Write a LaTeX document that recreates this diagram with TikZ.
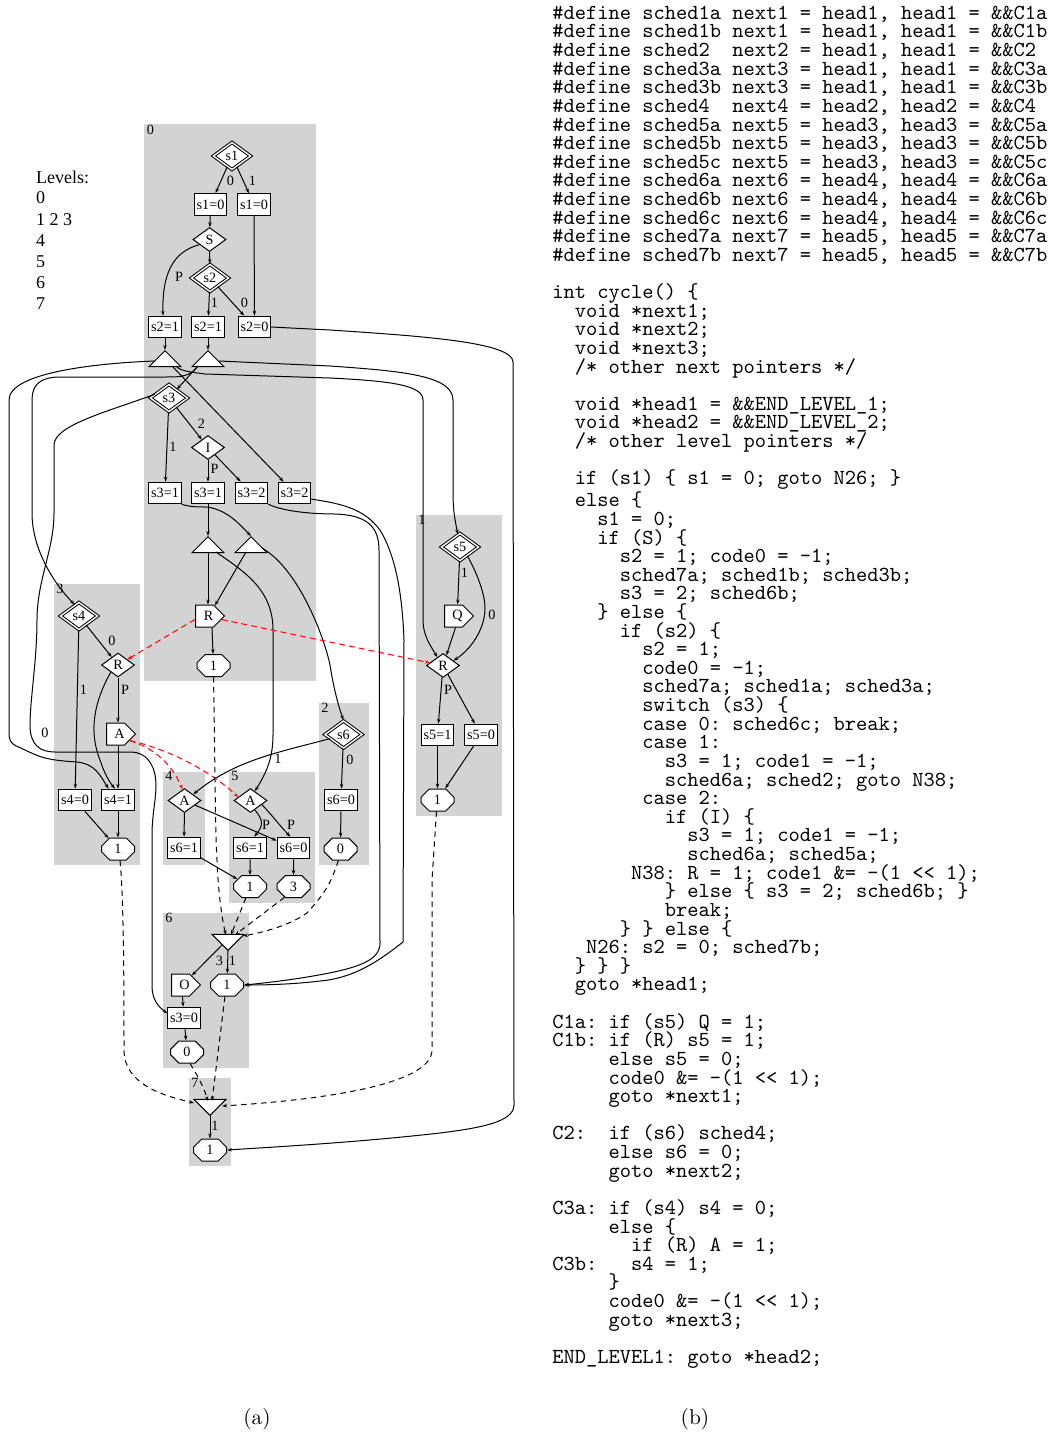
\documentclass[tikz,border=0pt]{standalone}
\usepackage{fontspec}
\usetikzlibrary{arrows.meta,shapes.geometric,shapes.misc,shapes.symbols}
\newfontfamily\labfont{Liberation Serif}
\definecolor{lvlgray}{HTML}{D3D3D3}
\newcommand{\codefont}{\fontsize{10pt}{8.69pt}\selectfont\ttfamily}
\newcommand{\sigtext}[1]{\makebox[0pt]{\hspace{8pt}#1}}
\tikzset{
  base/.style={draw=black,fill=white,line width=1pt,inner sep=0pt,font=\labfont\fontsize{14.2pt}{15pt}\selectfont},
  boxn/.style={base,rectangle,minimum width=32.5pt,minimum height=21.5pt},
  dia/.style={base,diamond,minimum width=33pt,minimum height=24pt},
  ddia/.style={base,diamond,double,double distance=1.4pt,minimum width=37.5pt,minimum height=27.5pt},
  octn/.style={base,chamfered rectangle,chamfered rectangle xsep=5.5pt,chamfered rectangle ysep=5.5pt,minimum width=33pt,minimum height=22pt},
  trin/.style={base,isosceles triangle,isosceles triangle apex angle=90,isosceles triangle stretches,shape border rotate=90,minimum width=32pt,minimum height=16pt,anchor=apex},
  itrin/.style={trin,shape border rotate=270},
  sig/.style={base,signal,signal to=east,signal pointer angle=90,minimum width=29pt,minimum height=22pt,anchor=west},
  lab/.style={inner sep=0pt,font=\labfont\fontsize{14.2pt}{15pt}\selectfont},
  lev/.style={inner sep=0pt,anchor=west,font=\labfont\fontsize{18pt}{21pt}\selectfont},
  conn/.style={draw=black,line width=1pt,-{Stealth[length=5pt,width=3.4pt]}},
  dconn/.style={conn,dash pattern=on 5.5pt off 4.5pt},
  rconn/.style={conn,draw=red,dash pattern=on 6pt off 4pt,-{Stealth[length=5pt,width=3.4pt,fill=red]}},
  capn/.style={inner sep=0pt,scale=2.14,transform shape,font=\fontsize{10pt}{12pt}\selectfont}
}
\begin{document}
\begin{tikzpicture}[x=1pt,y=-1pt]
\useasboundingbox (0,0) rectangle (1052,1435);
% level regions
\fill[lvlgray] (144,124) rectangle (316,681);
\fill[lvlgray] (416,515) rectangle (502,816);
\fill[lvlgray] (319,703) rectangle (369,865);
\fill[lvlgray] (54,584) rectangle (140,865);
\fill[lvlgray] (163,772) rectangle (205,865);
\fill[lvlgray] (229,772) rectangle (315,903);
\fill[lvlgray] (163,913) rectangle (249,1068);
\fill[lvlgray] (189,1078) rectangle (231,1166);
\node[lab] (g0) at (150.5,130) {0};
\node[lab] (g1) at (422,520) {1};
\node[lab] (g2) at (325,708) {2};
\node[lab] (g3) at (60,589) {3};
\node[lab] (g4) at (169,776) {4};
\node[lab] (g5) at (235,776) {5};
\node[lab] (g6) at (169,918) {6};
\node[lab] (g7) at (195,1083) {7};
% legend
\node[lev] (lv) at (36,177) {Levels:};
\node[lev] (lv0) at (36,198) {0};
\node[lev] (lv1) at (36,219.5) {1 2 3};
\node[lev] (lv4) at (36,240.5) {4};
\node[lev] (lv5) at (36,261.5) {5};
\node[lev] (lv6) at (36,282.5) {6};
\node[lev] (lv7) at (36,303.5) {7};
% level 0
\node[ddia] (s1) at (232,156) {s1};
\node[boxn] (b10a) at (210.5,204.5) {s1=0};
\node[boxn] (b10b) at (254,204.5) {s1=0};
\node[dia] (S) at (209.5,239.5) {S};
\node[ddia] (s2) at (210,278) {s2};
\node[boxn] (b21a) at (165,327) {s2=1};
\node[boxn] (b21b) at (208,327) {s2=1};
\node[boxn] (b20) at (254.5,327) {s2=0};
\node[trin] (t1) at (165,350) {};
\node[trin] (t2) at (208,350) {};
\node[ddia] (s3) at (169,398) {s3};
\node[dia] (I) at (208,447.5) {I};
\node[boxn] (b31a) at (165,493) {s3=1};
\node[boxn] (b31b) at (208,493) {s3=1};
\node[boxn] (b32a) at (251.5,493) {s3=2};
\node[boxn] (b32b) at (294.5,493) {s3=2};
\node[trin] (t3) at (208,536) {};
\node[trin] (t4) at (251,536) {};
\node[sig] (Rp) at (195,616) {\sigtext{R}};
\node[octn] (o0) at (213.5,665.5) {1};
% level 3
\node[ddia] (s4) at (79,616) {s4};
\node[dia] (R3) at (118,665) {R};
\node[sig] (Ap) at (106,734) {\sigtext{A}};
\node[boxn] (b40) at (75,800) {s4=0};
\node[boxn] (b41) at (118,800) {s4=1};
\node[octn] (o3) at (118,849) {1};
% level 4, 5
\node[dia] (A4) at (184.5,800.5) {A};
\node[boxn] (b61a) at (184,848) {s6=1};
\node[dia] (A5) at (250.5,800.5) {A};
\node[boxn] (b61b) at (250,848) {s6=1};
\node[boxn] (b60b) at (293.5,848) {s6=0};
\node[octn] (o5a) at (250,886.5) {1};
\node[octn] (o5b) at (293.5,886.5) {3};
% level 2
\node[ddia] (s6) at (343.5,734.5) {s6};
\node[boxn] (b60) at (341,800) {s6=0};
\node[octn] (o2) at (340.5,849) {0};
% level 6
\node[itrin] (it6) at (228,951) {};
\node[sig] (Op) at (171,985) {\sigtext{O}};
\node[octn] (o6a) at (227,985) {1};
\node[boxn] (b30) at (184,1018) {s3=0};
\node[octn] (o6b) at (187,1052) {0};
% level 7
\node[itrin] (it7) at (210,1116) {};
\node[octn] (o7) at (210,1150) {1};
% level 1
\node[ddia] (s5) at (460,547) {s5};
\node[sig] (Qp) at (444,616) {\sigtext{Q}};
\node[dia] (R1) at (443,665.5) {R};
\node[boxn] (b51) at (437.5,735) {s5=1};
\node[boxn] (b50) at (481,735) {s5=0};
\node[octn] (o1) at (437.5,800) {1};
% attachment points on the triangles
\coordinate (t1w) at (155,361);
\coordinate (t1e) at (172,366);
\coordinate (t1f) at (176,366);
\coordinate (t2w) at (198,366);
\coordinate (t2e) at (219,361);
\coordinate (t3s) at (208,552);
\coordinate (t3e) at (216,552);
\coordinate (t4w) at (246,552);
\coordinate (t4e) at (262,548);
\coordinate (i6a) at (226,935);
\coordinate (i6b) at (231,935);
\coordinate (i6c) at (235,935);
\coordinate (i6d) at (243,936);
\coordinate (i6w) at (222,945);
\coordinate (i7a) at (208,1101);
\coordinate (i7b) at (212,1101);
\coordinate (i7w) at (194,1103);
\coordinate (i7e) at (222,1106);
% level 0 edges
\draw[conn] (s1) -- (b10a);
\draw[conn] (s1) -- (b10b);
\draw[conn] (b10a) -- (S);
\draw[conn] (b10b) -- (b20);
\draw[conn] (S.207) .. controls (172,252) and (162,275) .. (b21a.100);
\draw[conn] (S) -- (s2);
\draw[conn] (s2) -- (b21b);
\draw[conn] (s2) -- (b20);
\draw[conn] (b21a) -- (t1.apex);
\draw[conn] (b21b) -- (t2.apex);
\draw[conn] (t2w) -- (s3);
\draw[conn] (t1e) -- (b32b);
\draw[conn] (s3) -- (I);
\draw[conn] (s3) -- (b31a);
\draw[conn] (I) -- (b31b);
\draw[conn] (I) -- (b32a);
\draw[conn] (b31b) -- (t3.apex);
\draw[conn] (b31a.south east) .. controls (190,507) and (198,507) .. (207,507) .. controls (228,510) and (240,525) .. (t4.apex);
\draw[conn] (t3s) -- (Rp.north -| t3s);
\draw[conn] (t4w) -- (Rp.45);
\draw[conn] (Rp.-57) -- (o0);
% long edges
\draw[conn] (t1w) .. controls (100,363) and (9,372) .. (9,400) -- (9,733) .. controls (9,745) and (15,745) .. (25,750) .. controls (40,757) and (45,760) .. (77,762) .. controls (95,764) and (100,775) .. (b41.130);
\draw[conn] (t2w) .. controls (190,377) and (180,377) .. (165,377) -- (60,377) .. controls (40,377) and (32,385) .. (32,400) -- (32,513) .. controls (32,550) and (55,585) .. (s4.110);
\draw[conn] (s3.165) .. controls (110,411) and (54,425) .. (54,445) -- (54,513) .. controls (54,550) and (37,580) .. (37,620) .. controls (37,660) and (30,700) .. (30,725) .. controls (30,745) and (40,752) .. (55,752) -- (130,752) .. controls (150,752) and (156,770) .. (156,785) .. controls (156,800) and (152,815) .. (152,835) -- (152,985) .. controls (152,1000) and (158,1006) .. (b30.165);
\draw[conn] (t1f) .. controls (180,371) and (190,372) .. (205,374) -- (330,378) .. controls (390,381) and (423,385) .. (423,400) -- (423,620) .. controls (423,635) and (430,645) .. (R1.124);
\draw[conn] (t2e) -- (330,366) .. controls (400,371) and (453,375) .. (453,400) -- (453,493) .. controls (453,510) and (455,520) .. (s5.100);
\draw[conn] (b20.east) -- (330,330) .. controls (420,336) and (513,342) .. (513,362) -- (514,1105) .. controls (514,1122) and (480,1128) .. (440,1133) .. controls (360,1142) and (290,1146) .. (o7.east);
\draw[conn] (b32a.south east) .. controls (285,512) and (315,514) .. (335,514) .. controls (365,515) and (379,525) .. (379,550) -- (380,943) .. controls (380,960) and (360,968) .. (313,976) .. controls (290,980) and (265,983) .. (o6a.east);
\draw[conn] (b32b.-20) .. controls (345,504) and (365,510) .. (380,530) .. controls (395,555) and (402,590) .. (404,640) -- (403,942) .. controls (380,960) and (355,978) .. (320,981) .. controls (295,984) and (270,985) .. (o6a.east);
\draw[conn] (t3e) .. controls (245,572) and (273,590) .. (273,630) -- (273,735) .. controls (273,760) and (265,775) .. (A5.65);
\draw[conn] (t4e) .. controls (300,570) and (325,640) .. (330,665) .. controls (333,685) and (338,705) .. (s6.north);
% level 3 edges
\draw[conn] (s4) -- (R3);
\draw[conn] (s4) -- (b40);
\draw[conn] (R3) -- (Ap.north -| R3);
\draw[conn] (R3.225) .. controls (95,700) and (88,730) .. (100,760) .. controls (104,772) and (108,780) .. (b41.105);
\draw[conn] (Ap.south -| b41) -- (b41);
\draw[conn] (b40) -- (o3);
\draw[conn] (b41) -- (o3);
\draw[conn] (s6.197) .. controls (280,752) and (235,760) .. (A4.35);
% level 4/5 edges
\draw[conn] (A4) -- (b61a);
\draw[conn] (A4) -- (b60b);
\draw[conn] (b61a) -- (o5a);
\draw[conn] (A5.-65) .. controls (263,820) and (264,825) .. (b61b.70);
\draw[conn] (A5.-20) .. controls (272,815) and (280,826) .. (b60b.105);
\draw[conn] (b61b) -- (o5a);
\draw[conn] (b60b) -- (o5b);
% level 2 edges
\draw[conn] (s6) -- (b60);
\draw[conn] (b60) -- (o2);
% red
\draw[rconn] (Rp.200) -- (R3);
\draw[rconn] (Rp) -- (R1);
\draw[rconn] (Ap.-25) .. controls (150,747) and (170,760) .. (A4.100);
\draw[rconn] (Ap.-25) .. controls (165,748) and (210,770) .. (A5.165);
% dashed into level 6
\draw[dconn] (o0.south) .. controls (215,750) and (215,830) .. (217,860) .. controls (218,890) and (222,920) .. (i6a);
\draw[dconn] (o5a.-110) -- (i6b);
\draw[dconn] (o5b.-130) -- (i6c);
\draw[dconn] (o2.-100) .. controls (330,885) and (325,893) .. (307,913) .. controls (290,925) and (265,932) .. (i6d);
% level 6 edges
\draw[conn] (i6w) -- (Op.40);
\draw[conn] (it6.apex) -- (o6a);
\draw[conn] (Op.-80) -- (b30);
\draw[conn] (b30) -- (o6b);
% dashed into level 7
\draw[dconn] (o3.-80) .. controls (124,900) and (124,1000) .. (124,1050) .. controls (124,1085) and (165,1096) .. (i7w);
\draw[dconn] (o6b.-75) .. controls (197,1075) and (203,1085) .. (i7a);
\draw[dconn] (o6a.-100) -- (i7b);
\draw[dconn] (o1.-95) -- (432,880) -- (432,1050) .. controls (432,1085) and (320,1100) .. (i7e);
\draw[conn] (it7.apex) -- (o7);
% level 1 edges
\draw[conn] (s5) -- (Qp.70);
\draw[conn] (s5.-50) .. controls (478,575) and (485,595) .. (485,608) .. controls (485,630) and (470,650) .. (R1.25);
\draw[conn] (Qp.-80) -- (R1);
\draw[conn] (R1) -- (b51);
\draw[conn] (R1) -- (b50);
\draw[conn] (b51) -- (o1);
\draw[conn] (b50) -- (o1);
% edge labels
\node[lab] (e1) at (230.5,181) {0};
\node[lab] (e2) at (252.5,181) {1};
\node[lab] (e3) at (179,276.5) {P};
\node[lab] (e4) at (214.5,303) {1};
\node[lab] (e5) at (244.5,303) {0};
\node[lab] (e6) at (201.5,423.5) {2};
\node[lab] (e7) at (173,446.5) {1};
\node[lab] (e8) at (214.5,469) {P};
\node[lab] (e9) at (112,640.5) {0};
\node[lab] (e10) at (83.5,690) {1};
\node[lab] (e11) at (125,690) {P};
\node[lab] (e12) at (45,733) {0};
\node[lab] (e13) at (278,759) {1};
\node[lab] (e14) at (350,759.5) {0};
\node[lab] (e15) at (266,825) {P};
\node[lab] (e16) at (291,825) {P};
\node[lab] (e17) at (219.5,961) {3};
\node[lab] (e18) at (232.5,961) {1};
\node[lab] (e19) at (215,1126) {1};
\node[lab] (e20) at (464.5,572.5) {1};
\node[lab] (e21) at (492,614.5) {0};
\node[lab] (e22) at (448,690) {P};
% code
\node[anchor=north west,inner sep=0pt,scale=2.143,transform shape,align=left,font=\codefont] (code) at (552,5.5) {%
\#define~sched1a~next1~=~head1,~head1~=~\&\&C1a\\
\#define~sched1b~next1~=~head1,~head1~=~\&\&C1b\\
\#define~sched2~~next2~=~head1,~head1~=~\&\&C2\\
\#define~sched3a~next3~=~head1,~head1~=~\&\&C3a\\
\#define~sched3b~next3~=~head1,~head1~=~\&\&C3b\\
\#define~sched4~~next4~=~head2,~head2~=~\&\&C4\\
\#define~sched5a~next5~=~head3,~head3~=~\&\&C5a\\
\#define~sched5b~next5~=~head3,~head3~=~\&\&C5b\\
\#define~sched5c~next5~=~head3,~head3~=~\&\&C5c\\
\#define~sched6a~next6~=~head4,~head4~=~\&\&C6a\\
\#define~sched6b~next6~=~head4,~head4~=~\&\&C6b\\
\#define~sched6c~next6~=~head4,~head4~=~\&\&C6c\\
\#define~sched7a~next7~=~head5,~head5~=~\&\&C7a\\
\#define~sched7b~next7~=~head5,~head5~=~\&\&C7b\\
~\\
int~cycle()~\{\\
~~void~*next1;\\
~~void~*next2;\\
~~void~*next3;\\
~~/*~other~next~pointers~*/\\
~\\
~~void~*head1~=~\&\&END\_LEVEL\_1;\\
~~void~*head2~=~\&\&END\_LEVEL\_2;\\
~~/*~other~level~pointers~*/\\
~\\
~~if~(s1)~\{~s1~=~0;~goto~N26;~\}\\
~~else~\{\\
~~~~s1~=~0;\\
~~~~if~(S)~\{\\
~~~~~~s2~=~1;~code0~=~-1;\\
~~~~~~sched7a;~sched1b;~sched3b;\\
~~~~~~s3~=~2;~sched6b;\\
~~~~\}~else~\{\\
~~~~~~if~(s2)~\{\\
~~~~~~~~s2~=~1;\\
~~~~~~~~code0~=~-1;\\
~~~~~~~~sched7a;~sched1a;~sched3a;\\
~~~~~~~~switch~(s3)~\{\\
~~~~~~~~case~0:~sched6c;~break;\\
~~~~~~~~case~1:\\
~~~~~~~~~~s3~=~1;~code1~=~-1;\\
~~~~~~~~~~sched6a;~sched2;~goto~N38;\\
~~~~~~~~case~2:\\
~~~~~~~~~~if~(I)~\{\\
~~~~~~~~~~~~s3~=~1;~code1~=~-1;\\
~~~~~~~~~~~~sched6a;~sched5a;\\
~~~~~~~N38:~R~=~1;~code1~\&=~-(1~<<~1);\\
~~~~~~~~~~\}~else~\{~s3~=~2;~sched6b;~\}\\
~~~~~~~~~~break;\\
~~~~~~\}~\}~else~\{\\
~~~N26:~s2~=~0;~sched7b;\\
~~\}~\}~\}\\
~~goto~*head1;\\
~\\
C1a:~if~(s5)~Q~=~1;\\
C1b:~if~(R)~s5~=~1;\\
~~~~~else~s5~=~0;\\
~~~~~code0~\&=~-(1~<<~1);\\
~~~~~goto~*next1;\\
~\\
C2:~~if~(s6)~sched4;\\
~~~~~else~s6~=~0;\\
~~~~~goto~*next2;\\
~\\
C3a:~if~(s4)~s4~=~0;\\
~~~~~else~\{\\
~~~~~~~if~(R)~A~=~1;\\
C3b:~~~s4~=~1;\\
~~~~~\}\\
~~~~~code0~\&=~-(1~<<~1);\\
~~~~~goto~*next3;\\
~\\
END\_LEVEL1:~goto~*head2;};
% captions
\node[capn] (capa) at (257,1419) {(a)};
\node[capn] (capb) at (695,1419) {(b)};
\end{tikzpicture}
\end{document}
